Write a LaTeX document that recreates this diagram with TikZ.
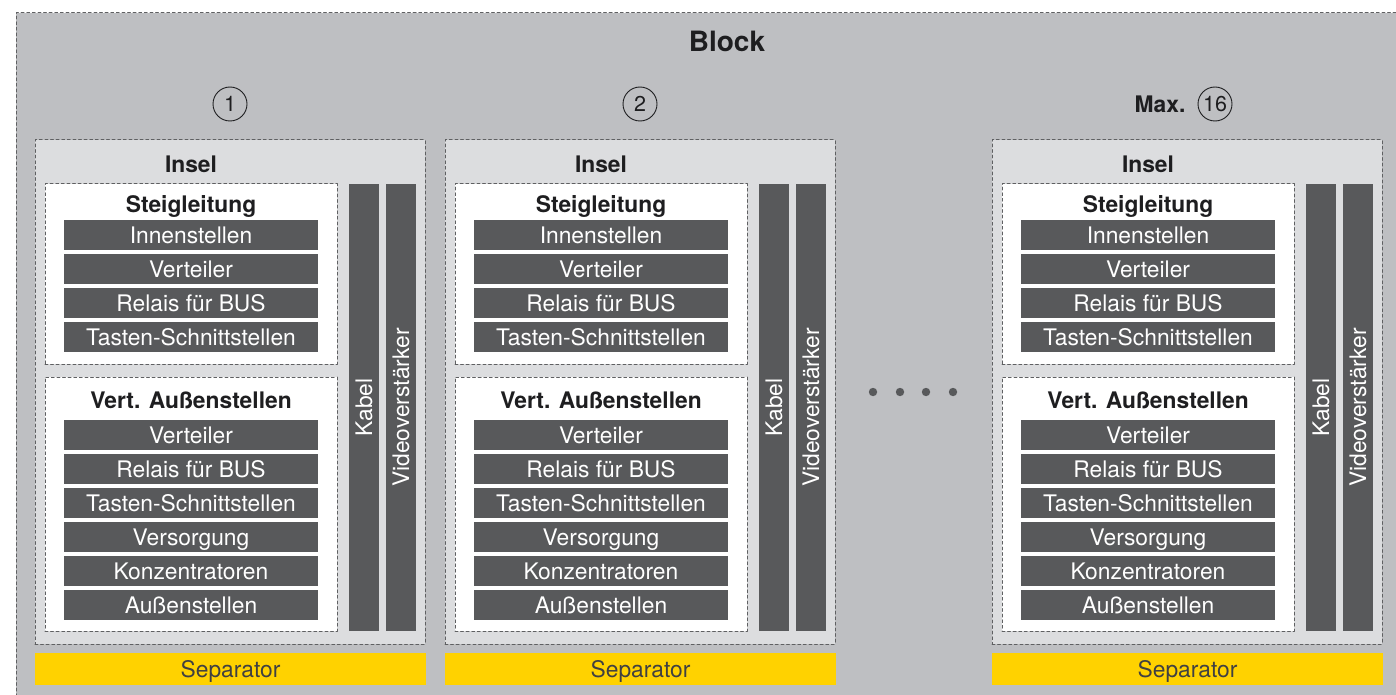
\documentclass[tikz,border=0pt]{standalone}
\usepackage{fontspec}
\setmainfont{TeX Gyre Heros}
\usetikzlibrary{positioning}
\definecolor{blockgrau}{RGB}{190,191,194}
\definecolor{inselgrau}{RGB}{220,221,223}
\definecolor{balkengrau}{RGB}{88,89,91}
\definecolor{rahmengrau}{RGB}{95,96,98}
\definecolor{sepgelb}{RGB}{255,210,0}
\definecolor{textschwarz}{RGB}{30,30,32}

\begin{document}
\begin{tikzpicture}[x=1pt,y=-1pt,line cap=round,line join=round,
 rahmen/.style={draw=rahmengrau,line width=1pt,dash pattern=on 2.8pt off 2.8pt},
 inselbox/.style={rahmen,fill=inselgrau,minimum width=390,minimum height=504,inner sep=0},
 gruppe/.style={rahmen,fill=white,minimum width=292,inner sep=0},
 balken/.style={fill=balkengrau,text=white,minimum width=254,minimum height=30,inner sep=0,
  text height=16.4pt,text depth=0pt,font=\fontsize{22.8}{26}\selectfont},
 saeule/.style={balken,rotate=90,minimum width=447},
 titel/.style={anchor=base,inner sep=0,text=textschwarz,font=\fontsize{22.8}{26}\selectfont\bfseries},
 sep/.style={fill=sepgelb,minimum width=391,minimum height=32,inner sep=0,text=textschwarz!85,
  text height=16.4pt,text depth=0pt,font=\fontsize{22.8}{26}\selectfont},
 nummer/.style={circle,draw=textschwarz,line width=.9pt,minimum size=34,inner sep=0,
  text=textschwarz,text height=15.5pt,text depth=0pt,font=\fontsize{21.5}{24}\selectfont}]
% Koordinaten in Pixeln der Vorlage, y nach unten.
\useasboundingbox (0,0) rectangle (1396,695);
\fill[blockgrau] (16,13) rectangle (1396,695);
\draw[rahmen] (1396,13) -- (16,13) -- (16,695);
\node[titel,font=\fontsize{28}{32}\selectfont\bfseries] (block) at (727,52) {Block};
% drei Inseln, gleicher Aufbau
\foreach \n/\dx in {a/0,b/410,c/957}{
 \begin{scope}[xshift=\dx]
  \node[inselbox] (insel\n) at (230,392) {};
  \node[sep] (sep\n) at (230.5,669) {Separator};
  \node[titel] (inseltitel\n) at (191,172) {Insel};
  \node[gruppe,minimum height=180] (steig\n) at (191,274) {};
  \node[titel] (steigtitel\n) at (191,212) {Steigleitung};
  \foreach \t [count=\k] in {Innenstellen,Verteiler,Relais für BUS,Tasten-Schnittstellen}
   \node[balken] (st\n\k) at (191,201+34*\k) {\t};
  \node[gruppe,minimum height=254] (vert\n) at (191,504) {};
  \node[titel] (verttitel\n) at (191,408) {Vert. Außenstellen};
  \foreach \t [count=\k] in {Verteiler,Relais für BUS,Tasten-Schnittstellen,Versorgung,Konzentratoren,Außenstellen}
   \node[balken] (va\n\k) at (191,401+34*\k) {\t};
  \node[saeule] (kabel\n) at (364,407.5) {Kabel};
  \node[saeule] (video\n) at (401,407.5) {Videoverstärker};
 \end{scope}}
\node[nummer] (nra) at (230,104) {1};
\node[nummer] (nrb) at (640,104) {2};
\node[nummer] (nrc) at (1215,104) {16};
\node[titel,anchor=center,text height=16.4pt,text depth=0pt,left=12pt of nrc] (max) {Max.};
\foreach \px in {873,900,926,953}
 \fill[balkengrau] (\px,392) circle (4.2);
\end{tikzpicture}
\end{document}
